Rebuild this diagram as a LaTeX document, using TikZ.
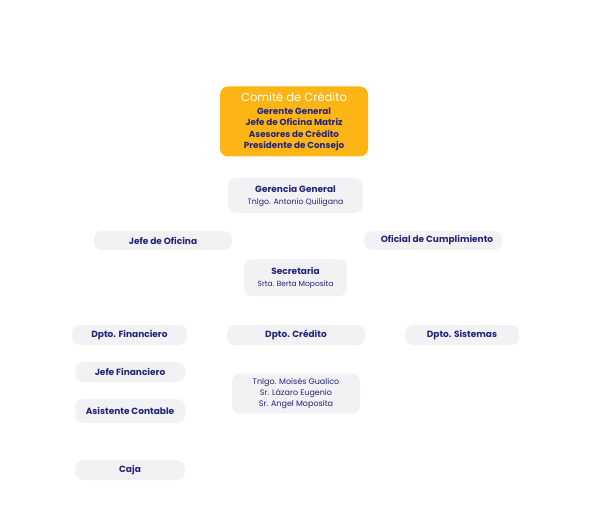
\documentclass[tikz,border=0pt]{standalone}
\usepackage{fontspec}
\setmainfont{Poppins}
\usepackage{tikz}
\definecolor{navy}{HTML}{23247A}
\definecolor{gold}{HTML}{FDB515}
\definecolor{pale}{HTML}{F2F2F4}

\begin{document}
\begin{tikzpicture}[
		x=1pt, y=-1pt,
		box/.style={rounded corners=8pt, fill=pale, text=navy, align=center, inner sep=0pt},
		head/.style={box, font=\fontsize{9}{10}\selectfont\bfseries}]
	%% page
	\useasboundingbox (0,0) rectangle (592,516);
	%% board
	\node (comite) at (294,121.5) [box, fill=gold, minimum width=148pt, minimum height=70pt,
		font=\fontsize{8.8}{11.5}\selectfont\bfseries]
		{\textcolor{white}{\fontsize{11.5}{14}\selectfont\mdseries Comité de Crédito}\\[1.5pt]
		Gerente General\\ Jefe de Oficina Matriz\\ Asesores de Crédito\\ Presidente de Consejo};
	%% management
	\node (gerencia) at (295.5,195.5) [box, minimum width=135pt, minimum height=35pt]
		{\fontsize{9}{12}\selectfont\bfseries Gerencia General\\ \fontsize{7.8}{10}\selectfont Tnlgo. Antonio Quiligana};
	\node (jefeof) at (163,240.5) [head, minimum width=138pt, minimum height=19pt] {Jefe de Oficina};
	\node (oficial) at (433,240.5) [head, minimum width=138pt, minimum height=19pt] {\hspace*{8pt}Oficial de Cumplimiento};
	\node (secre) at (295.5,277.5) [box, minimum width=103pt, minimum height=37pt]
		{\fontsize{9}{13}\selectfont\bfseries Secretaria\\ \fontsize{7.5}{10}\selectfont Srta. Berta Moposita};
	%% departments
	\node (dfin) at (129.5,335) [head, minimum width=115pt, minimum height=20pt] {Dpto. Financiero};
	\node (dcred) at (296,335) [head, minimum width=138pt, minimum height=20pt] {Dpto. Crédito};
	\node (dsis) at (462,335) [head, minimum width=114pt, minimum height=20pt] {Dpto. Sistemas};
	%% staff
	\node (jfin) at (130,372) [head, minimum width=110pt, minimum height=20pt] {Jefe Financiero};
	\node (asist) at (130,411) [head, minimum width=110pt, minimum height=24pt] {Asistente Contable};
	\node (caja) at (130,470) [head, minimum width=110pt, minimum height=20pt] {Caja};
	\node (asesores) at (296,393.5) [box, minimum width=128pt, minimum height=40pt,
		font=\fontsize{8}{11}\selectfont]
		{Tnlgo. Moisés Gualico\\ Sr. Lázaro Eugenio\\ Sr. Angel Moposita};
\end{tikzpicture}
\end{document}
